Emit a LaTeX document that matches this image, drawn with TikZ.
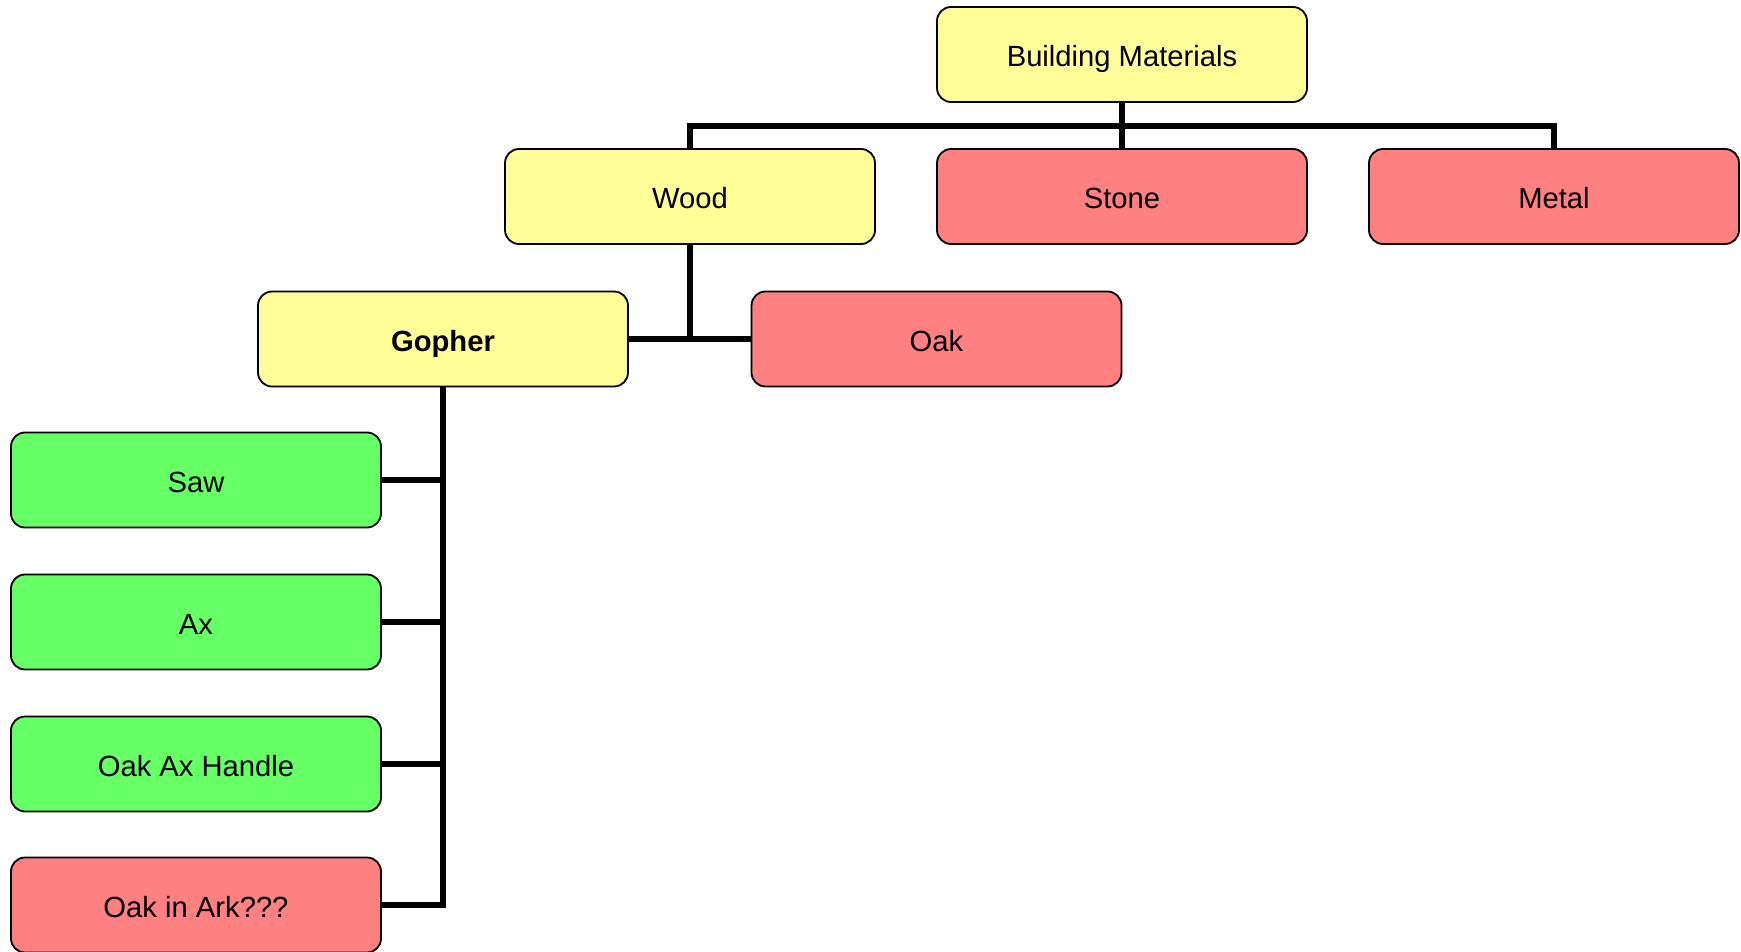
\documentclass[tikz,border=0pt]{standalone}
\usepackage{fontspec}
\setmainfont{Liberation Sans}
\definecolor{yel}{RGB}{255,255,153}
\definecolor{redb}{RGB}{255,128,128}
\definecolor{grn}{RGB}{102,255,102}
\tikzset{
  box/.style={draw=black, line width=1.8pt, rounded corners=14pt, rectangle,
    minimum width=370pt, minimum height=95pt, inner sep=0pt,
    text height=25pt, text depth=0pt,
    font=\fontsize{29.2}{34}\selectfont, text=black},
  ybox/.style={box, fill=yel},
  rbox/.style={box, fill=redb},
  gbox/.style={box, fill=grn},
  conn/.style={line width=5.5pt, line join=miter, draw=black}
}
\begin{document}
\begin{tikzpicture}[x=1pt,y=-1pt]
\useasboundingbox (0,0) rectangle (1741,952);
\node[ybox] (bm) at (1122,54.5) {Building Materials};
\node[ybox] (wood) at (690,196.5) {Wood};
\node[rbox] (stone) at (1122,196.5) {Stone};
\node[rbox] (metal) at (1554,196.5) {Metal};
\node[ybox, font=\fontsize{29.2}{34}\selectfont\bfseries] (gopher) at (443,339) {Gopher};
\node[rbox] (oak) at (936.5,339) {Oak};
\node[gbox] (saw) at (196,480) {Saw};
\node[gbox] (ax) at (196,622) {Ax};
\node[gbox] (oah) at (196,764) {Oak Ax Handle};
\node[rbox] (ark) at (196,905) {Oak in Ark???};
\coordinate (bus) at (1122,126);
\draw[conn] (bm.south) -- (bus);
\draw[conn] (wood.north) |- (bus) -| (metal.north);
\draw[conn] (bus) -- (stone.north);
\draw[conn] (wood.south) -- (wood.south |- gopher.east);
\draw[conn] (gopher.east) -- (oak.west);
\draw[conn] (gopher.south) |- (ark.east);
\draw[conn] (saw.east) -- (saw.east -| gopher.south);
\draw[conn] (ax.east) -- (ax.east -| gopher.south);
\draw[conn] (oah.east) -- (oah.east -| gopher.south);
\end{tikzpicture}
\end{document}
